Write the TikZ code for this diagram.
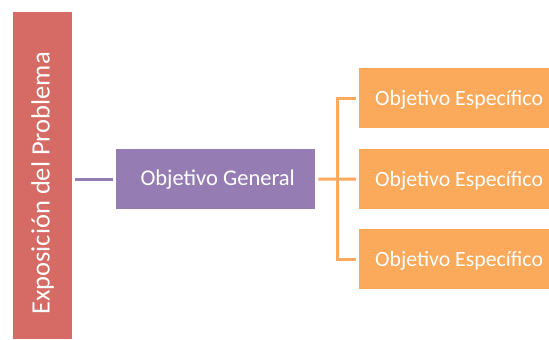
\documentclass[tikz,border=0pt]{standalone}
\usepackage{fontspec}
\setmainfont{Carlito}
\definecolor{redbox}{HTML}{D66A64}
\definecolor{purplebox}{HTML}{957DB4}
\definecolor{orangebox}{HTML}{FBA95B}
\begin{document}
\begin{tikzpicture}[x=1pt,y=-1pt,
  box/.style={draw=none,inner sep=0pt,text=white},
  purpleline/.style={draw=purplebox,line width=3pt},
  orangeline/.style={draw=orangebox,line width=3pt}]
\useasboundingbox (0,0) rectangle (549,340);
\node[box,fill=redbox,minimum width=59pt,minimum height=327pt,anchor=north west] (prob) at (13,12) {};
\node[text=white,rotate=90,font=\fontsize{26.5}{30}\selectfont] (probt) at (42.5,183.5) {Exposición del Problema};
\node[box,fill=purplebox,minimum width=199pt,minimum height=60pt,anchor=north west] (gen) at (116,149) {};
\node[text=white,font=\fontsize{22.5}{26}\selectfont] (gent) at ([xshift=2pt]gen.center) {Objetivo General};
\foreach \i/\y in {1/68,2/149,3/229}{
  \node[box,fill=orangebox,minimum width=190pt,minimum height=60pt,anchor=north west] (esp\i) at (359,\y) {};
  \node[text=white,inner sep=0pt,font=\fontsize{21.8}{26}\selectfont,anchor=west] (espt\i) at ([xshift=16pt,yshift=-2pt]esp\i.west) {Objetivo Específico};
}
\coordinate (pl) at (75,179);
\draw[purpleline] (pl) -- ([xshift=-3pt]gen.west |- pl);
\coordinate (bx) at (337,179);
\draw[orangeline] ([xshift=3pt]gen.east) -- (bx);
\draw[orangeline] ([xshift=-3pt]esp1.west) -| (bx |- esp3.west) -- ([xshift=-3pt]esp3.west);
\draw[orangeline] (bx) -- ([xshift=-3pt]esp2.west);
\end{tikzpicture}
\end{document}
